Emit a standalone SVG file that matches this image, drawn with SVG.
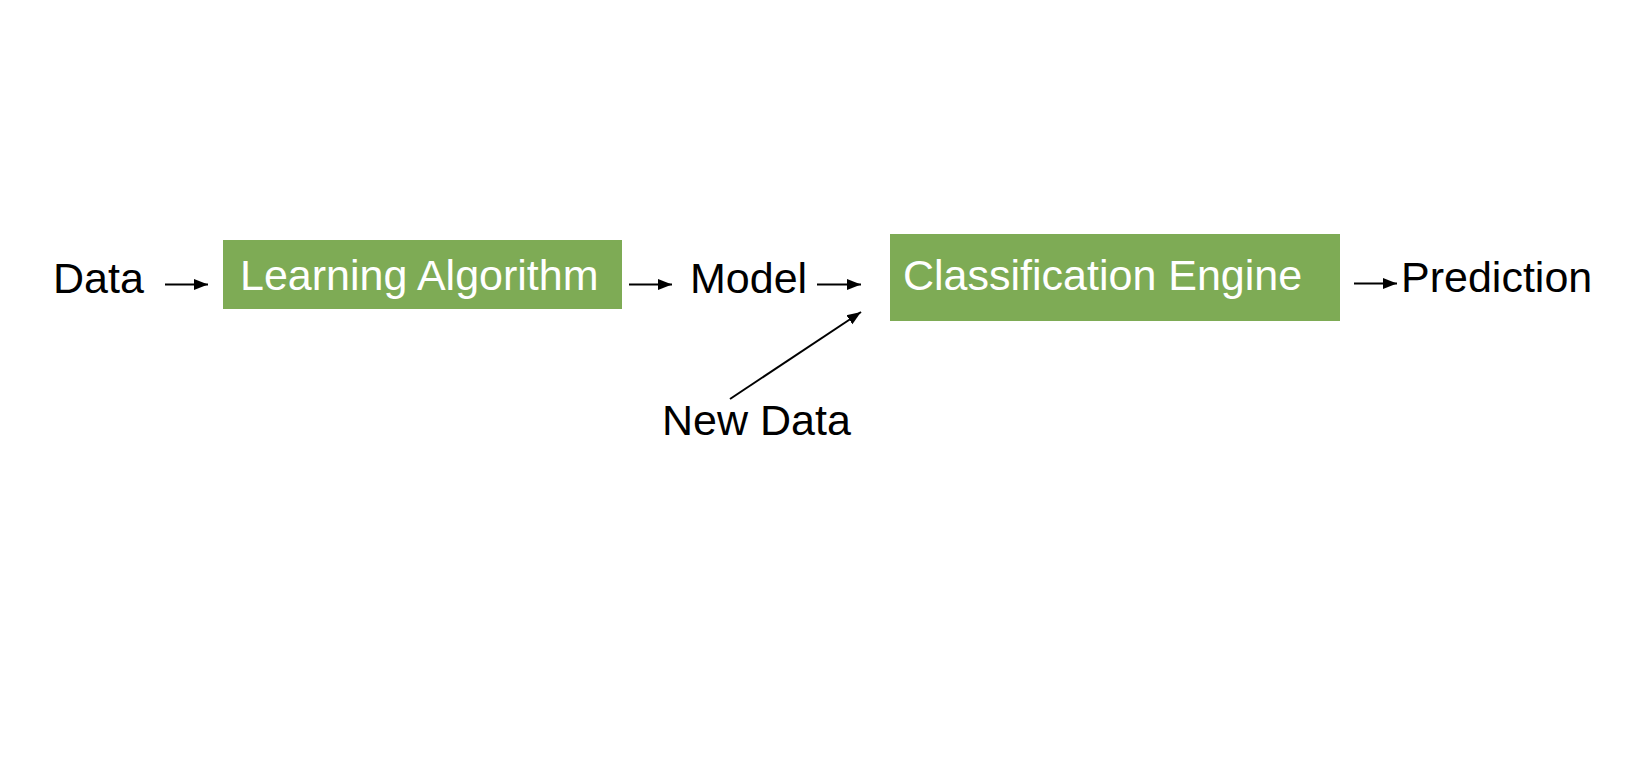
<svg xmlns="http://www.w3.org/2000/svg" width="1634" height="762" viewBox="0 0 1634 762">
  <style>
    .box { fill: #7eab55; }
    .lbl { font-family: "Liberation Sans", Arial, sans-serif; font-size: 43px; fill: #000; }
    .inbox { font-family: "Liberation Sans", Arial, sans-serif; font-size: 43px; fill: #fff; }
    .conn { stroke: #000; stroke-width: 2; fill: none; marker-end: url(#arrow); }
  </style>
  <defs>
    <marker id="arrow" markerUnits="userSpaceOnUse" markerWidth="14" markerHeight="12" refX="14" refY="6" orient="auto">
      <path d="M0,0.5 L14,6 L0,11.5 z" fill="#000"/>
    </marker>
  </defs>
  <rect width="1634" height="762" fill="#fff"/>
  <g id="data">
    <text class="lbl" x="53" y="293">Data</text>
  </g>
  <g id="learning-algorithm">
    <rect class="box" x="223" y="240" width="399" height="69"/>
    <text class="inbox" x="240" y="290">Learning Algorithm</text>
  </g>
  <g id="model">
    <text class="lbl" x="690" y="293">Model</text>
  </g>
  <g id="classification-engine">
    <rect class="box" x="890" y="234" width="450" height="87"/>
    <text class="inbox" x="903" y="290">Classification Engine</text>
  </g>
  <g id="prediction">
    <text class="lbl" x="1401" y="292">Prediction</text>
  </g>
  <g id="new-data">
    <text class="lbl" x="662" y="435">New Data</text>
  </g>
  <g id="connectors">
    <line class="conn" x1="165" y1="284.5" x2="208" y2="284.5"/>
    <line class="conn" x1="629" y1="284.5" x2="672" y2="284.5"/>
    <line class="conn" x1="817" y1="284.5" x2="861" y2="284.5"/>
    <line class="conn" x1="1354" y1="283.5" x2="1397" y2="283.5"/>
    <line class="conn" x1="730" y1="399" x2="861" y2="312"/>
  </g>
</svg>
